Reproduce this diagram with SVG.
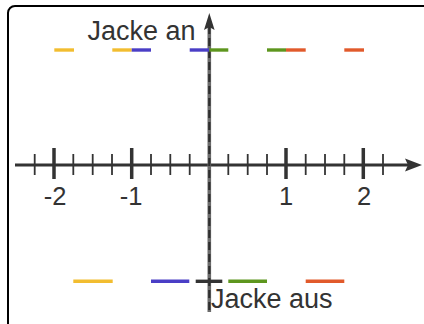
<svg xmlns="http://www.w3.org/2000/svg" width="424" height="324" viewBox="0 0 424 324">
<style>
.lbl{font-family:"Liberation Sans",Arial,sans-serif;font-size:27px;fill:#333}
.num{font-family:"Liberation Sans",Arial,sans-serif;font-size:25.5px;fill:#333;text-anchor:middle}
.maj{stroke:#333;stroke-width:3.5}
.min{stroke:#333;stroke-width:1.8}
.seg{stroke-width:3.4;fill:none}
.y{stroke:#f2bd30}.b{stroke:#4a3ec6}.g{stroke:#5d961e}.o{stroke:#e15a2b}
</style>
<rect x="8" y="6" width="440" height="340" rx="7" fill="#fff" stroke="#000" stroke-width="2"/>
<g id="connectors">
  <g id="x-axis">
    <line x1="15" y1="165" x2="408" y2="165" stroke="#333" stroke-width="3"/>
    <polygon points="422,165 405,158.5 408,165 405,171.5" fill="#333"/>
    <g class="min">
      <line x1="34.7" y1="154" x2="34.7" y2="175"/>
      <line x1="73.3" y1="154" x2="73.3" y2="175"/>
      <line x1="92.7" y1="154" x2="92.7" y2="175"/>
      <line x1="112" y1="154" x2="112" y2="175"/>
      <line x1="151" y1="154" x2="151" y2="175"/>
      <line x1="170.3" y1="154" x2="170.3" y2="175"/>
      <line x1="189.7" y1="154" x2="189.7" y2="175"/>
      <line x1="228.3" y1="154" x2="228.3" y2="175"/>
      <line x1="247.7" y1="154" x2="247.7" y2="175"/>
      <line x1="267" y1="154" x2="267" y2="175"/>
      <line x1="305.7" y1="154" x2="305.7" y2="175"/>
      <line x1="325" y1="154" x2="325" y2="175"/>
      <line x1="344.3" y1="154" x2="344.3" y2="175"/>
      <line x1="383" y1="154" x2="383" y2="175"/>
    </g>
    <g class="maj">
      <line x1="54" y1="148" x2="54" y2="179"/>
      <line x1="131.7" y1="148" x2="131.7" y2="179"/>
      <line x1="286" y1="148" x2="286" y2="179"/>
      <line x1="363.3" y1="148" x2="363.3" y2="179"/>
    </g>
  </g>
  <g id="y-axis">
    <line x1="209.3" y1="26" x2="209.3" y2="312" stroke="#6a6a6a" stroke-width="3.6"/>
    <line x1="209.3" y1="26" x2="209.3" y2="312" stroke="#2e2e2e" stroke-width="2.2" stroke-dasharray="8,4"/>
    <polygon points="209.3,13 204,30 209.3,27 214.6,30" fill="#333"/>
  </g>
</g>
<g id="labels">
  <text class="num" x="55" y="205">-2</text>
  <text class="num" x="131" y="205">-1</text>
  <text class="num" x="286" y="205">1</text>
  <text class="num" x="364" y="205">2</text>
  <text id="jacke-an" class="lbl" x="87.5" y="39.5">Jacke an</text>
  <text id="jacke-aus" class="lbl" x="211" y="308">Jacke aus</text>
</g>
<g id="top-row">
  <line class="seg y" x1="54.3" y1="50" x2="74" y2="50"/>
  <line class="seg y" x1="112.3" y1="50" x2="131.7" y2="50"/>
  <line class="seg b" x1="131.7" y1="50" x2="151" y2="50"/>
  <line class="seg b" x1="189.7" y1="50" x2="209.3" y2="50"/>
  <line class="seg g" x1="209.3" y1="50" x2="228.3" y2="50"/>
  <line class="seg g" x1="267" y1="50" x2="286" y2="50"/>
  <line class="seg o" x1="286" y1="50" x2="305.7" y2="50"/>
  <line class="seg o" x1="344.3" y1="50" x2="364" y2="50"/>
</g>
<g id="bottom-row">
  <line class="seg y" x1="73.3" y1="281.3" x2="112.7" y2="281.3"/>
  <line class="seg b" x1="151" y1="281.3" x2="189.3" y2="281.3"/>
  <line class="seg" stroke="#333" x1="195.7" y1="281.3" x2="222.3" y2="281.3"/>
  <line class="seg g" x1="228.3" y1="281.3" x2="267" y2="281.3"/>
  <line class="seg o" x1="305.7" y1="281.3" x2="344.3" y2="281.3"/>
</g>
</svg>
